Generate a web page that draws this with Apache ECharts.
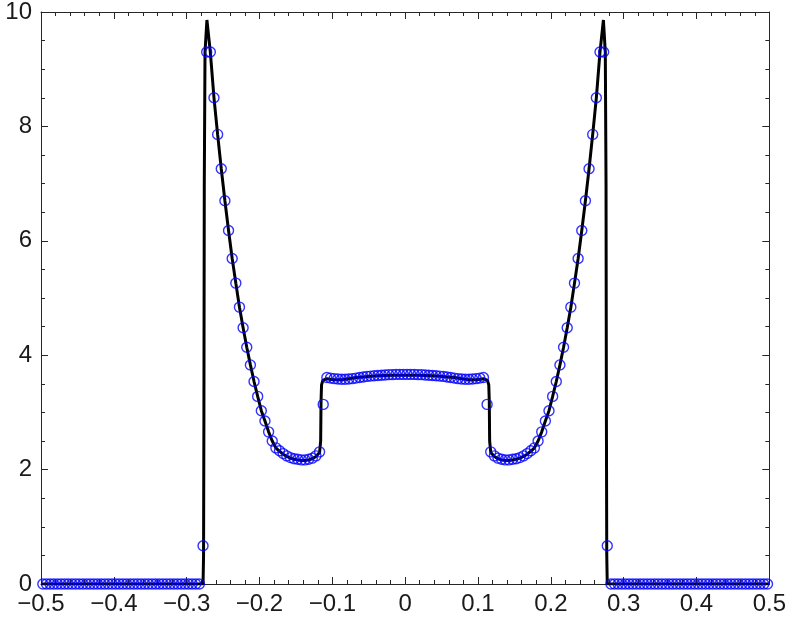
<!DOCTYPE html>
<html>
<head>
<meta charset="utf-8">
<script src="https://cdn.jsdelivr.net/npm/echarts@6/dist/echarts.min.js"></script>
<style>
  html, body { margin: 0; padding: 0; background: #fff; }
  #chart { width: 789px; height: 626px; }
</style>
</head>
<body>
<div id="chart"></div>
<script>
// cell centres of the numerical solution (200 cells on [-0.5, 0.5])
const cellStart = -0.4975;
const cellStep = 0.005;

// numerical solution (blue circles)
const markerY = [
  0, 0, 0, 0, 0, 0, 0, 0, 0, 0,
  0, 0, 0, 0, 0, 0, 0, 0, 0, 0,
  0, 0, 0, 0, 0, 0, 0, 0, 0, 0,
  0, 0, 0, 0, 0, 0, 0, 0, 0, 0,
  0, 0, 0, 0, 0.67, 9.3, 9.3, 8.50, 7.86, 7.26,
  6.70, 6.18, 5.69, 5.26, 4.84, 4.48, 4.14, 3.83, 3.54, 3.28,
  3.03, 2.85, 2.66, 2.50, 2.38, 2.33, 2.28, 2.24, 2.21, 2.19,
  2.18, 2.17, 2.17, 2.18, 2.20, 2.24, 2.31, 3.14, 3.61, 3.60,
  3.59, 3.585, 3.58, 3.58, 3.585, 3.59, 3.60, 3.61, 3.62, 3.63,
  3.635, 3.64, 3.645, 3.65, 3.655, 3.66, 3.66, 3.665, 3.665, 3.665,
  3.665, 3.665, 3.665, 3.66, 3.66, 3.655, 3.65, 3.645, 3.64, 3.635,
  3.63, 3.62, 3.61, 3.60, 3.59, 3.585, 3.58, 3.58, 3.585, 3.59,
  3.60, 3.61, 3.14, 2.31, 2.24, 2.20, 2.18, 2.17, 2.17, 2.18,
  2.19, 2.21, 2.24, 2.28, 2.33, 2.38, 2.50, 2.66, 2.85, 3.03,
  3.28, 3.54, 3.83, 4.14, 4.48, 4.84, 5.26, 5.69, 6.18, 6.70,
  7.26, 7.86, 8.50, 9.3, 9.3, 0.67, 0, 0, 0, 0,
  0, 0, 0, 0, 0, 0, 0, 0, 0, 0,
  0, 0, 0, 0, 0, 0, 0, 0, 0, 0,
  0, 0, 0, 0, 0, 0, 0, 0, 0, 0,
  0, 0, 0, 0, 0, 0, 0, 0, 0, 0
];

// reference solution (black line)
const lineX = [
  -0.5, -0.2775, -0.2768, -0.2763, -0.2758, -0.2748, -0.2722, -0.2675,
  -0.2625, -0.2575, -0.2525, -0.2475, -0.2425, -0.2375, -0.2325, -0.2275,
  -0.2225, -0.2175, -0.2125, -0.2075, -0.2025, -0.1975, -0.1925, -0.1875,
  -0.1825, -0.1775, -0.1725, -0.1675, -0.1625, -0.1575, -0.1525, -0.1475,
  -0.1425, -0.1375, -0.1325, -0.1275, -0.1225, -0.1175, -0.1160, -0.1155,
  -0.1148, -0.1130, -0.1075, -0.0975, -0.0875, -0.0775, -0.0675, -0.0575,
  -0.0475, -0.0375, -0.0275, -0.0175, -0.0075, 0,
  0.0075, 0.0175, 0.0275, 0.0375, 0.0475, 0.0575, 0.0675, 0.0775,
  0.0875, 0.0975, 0.1075, 0.1130, 0.1148, 0.1155, 0.1160, 0.1175,
  0.1225, 0.1275, 0.1325, 0.1375, 0.1425, 0.1475, 0.1525, 0.1575,
  0.1625, 0.1675, 0.1725, 0.1775, 0.1825, 0.1875, 0.1925, 0.1975,
  0.2025, 0.2075, 0.2125, 0.2175, 0.2225, 0.2275, 0.2325, 0.2375,
  0.2425, 0.2475, 0.2525, 0.2575, 0.2625, 0.2675, 0.2722, 0.2748,
  0.2758, 0.2763, 0.2768, 0.2775, 0.5
];
const lineY = [
  0, 0, 0.5, 3, 7, 9.3, 9.86, 9.3,
  8.50, 7.86, 7.26, 6.70, 6.18, 5.69, 5.26, 4.84,
  4.48, 4.14, 3.83, 3.54, 3.28, 3.03, 2.85, 2.66,
  2.50, 2.38, 2.32, 2.27, 2.23, 2.20, 2.18, 2.17,
  2.16, 2.16, 2.17, 2.19, 2.23, 2.30, 2.5, 3.2,
  3.48, 3.56, 3.59, 3.57, 3.57, 3.59, 3.61, 3.62,
  3.63, 3.64, 3.645, 3.65, 3.65, 3.65,
  3.65, 3.65, 3.645, 3.64, 3.63, 3.62, 3.61, 3.59,
  3.57, 3.57, 3.59, 3.56, 3.48, 3.2, 2.5, 2.30,
  2.23, 2.19, 2.17, 2.16, 2.16, 2.17, 2.18, 2.20,
  2.23, 2.27, 2.32, 2.38, 2.50, 2.66, 2.85, 3.03,
  3.28, 3.54, 3.83, 4.14, 4.48, 4.84, 5.26, 5.69,
  6.18, 6.70, 7.26, 7.86, 8.50, 9.3, 9.86, 9.3,
  7, 3, 0.5, 0, 0
];

const xTicks = { min: -0.5, max: 0.5, interval: 0.1 };
const yTicks = { min: 0, max: 10, interval: 2 };

const axisColor = '#262626';
const fontFamily = '"Liberation Sans", Arial, Helvetica, sans-serif';

const markerData = markerY.map((y, i) => [cellStart + cellStep * i, y]);
const lineData = lineX.map((x, i) => [x, lineY[i]]);

function fmtX(v) {
  return String(Number(v.toFixed(1))).replace('-', '\u2212');
}

function boxAxis(opts) {
  return Object.assign({
    type: 'value',
    axisLine: { show: true, onZero: false, lineStyle: { color: axisColor, width: 1 } },
    axisTick: { show: true, inside: true, length: 7, lineStyle: { color: axisColor, width: 1 } },
    minorTick: { show: true, length: 4, lineStyle: { color: axisColor, width: 1 } },
    splitLine: { show: false },
    minorSplitLine: { show: false }
  }, opts);
}

const chart = echarts.init(document.getElementById('chart'), null, { renderer: 'canvas' });
chart.setOption({
  backgroundColor: '#ffffff',
  animation: false,
  grid: { left: 41, right: 19, top: 8, bottom: 42, containLabel: false },
  xAxis: [
    boxAxis({
      position: 'bottom', min: xTicks.min, max: xTicks.max, interval: xTicks.interval,
      minorTick: { show: true, splitNumber: 5, length: 4, lineStyle: { color: axisColor } },
      axisLabel: { color: '#1a1a1a', fontSize: 24, fontFamily: fontFamily, margin: 8, formatter: fmtX }
    }),
    boxAxis({
      position: 'top', min: xTicks.min, max: xTicks.max, interval: xTicks.interval,
      minorTick: { show: true, splitNumber: 5, length: 4, lineStyle: { color: axisColor } },
      axisLabel: { show: false }
    })
  ],
  yAxis: [
    boxAxis({
      position: 'left', min: yTicks.min, max: yTicks.max, interval: yTicks.interval,
      minorTick: { show: true, splitNumber: 4, length: 4, lineStyle: { color: axisColor } },
      axisLabel: { color: '#1a1a1a', fontSize: 24, fontFamily: fontFamily, margin: 9 }
    }),
    boxAxis({
      position: 'right', min: yTicks.min, max: yTicks.max, interval: yTicks.interval,
      minorTick: { show: true, splitNumber: 4, length: 4, lineStyle: { color: axisColor } },
      axisLabel: { show: false }
    })
  ],
  series: [
    {
      name: 'reference',
      type: 'line',
      data: lineData,
      showSymbol: false,
      symbol: 'none',
      lineStyle: { color: '#000000', width: 3 },
      z: 2
    },
    {
      name: 'numerical',
      type: 'scatter',
      data: markerData,
      symbol: 'circle',
      symbolSize: 10,
      itemStyle: { color: 'rgba(0,0,0,0)', borderColor: '#0000ff', borderWidth: 1.4 },
      z: 3
    }
  ]
});
</script>
</body>
</html>
